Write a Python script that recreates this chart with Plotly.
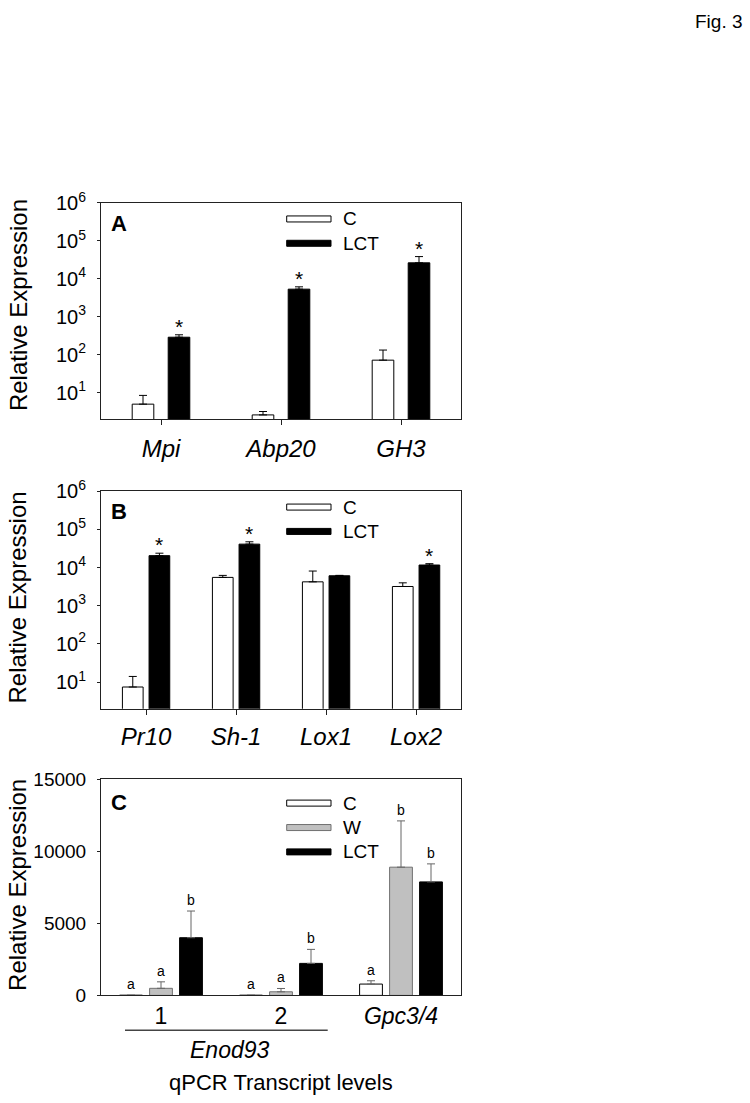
import math
import plotly.graph_objects as go

W, H = 750, 1103
FONT = "Liberation Sans, Arial, sans-serif"

# ---------------- data ----------------
# Panel A
genes_a = ["Mpi", "Abp20", "GH3"]
a_c = [5.0, 2.6, 72]
a_c_err = [3.5, 0.6, 61]
a_lct = [290, 5350, 26400]
a_lct_err = [46, 810, 12200]
a_sig = ["*", "*", "*"]

# Panel B
genes_b = ["Pr10", "Sh-1", "Lox1", "Lox2"]
b_c = [7.4, 5540, 4240, 3200]
b_c_err = [6.6, 710, 3890, 790]
b_lct = [20600, 41300, 6110, 11700]
b_lct_err = [3300, 6300, 150, 1000]
b_sig = ["*", "*", "", "*"]

# Panel C
genes_c = ["1", "2", "Gpc3/4"]
c_c = [10, 10, 785]
c_c_err = [0, 0, 230]
c_w = [490, 250, 8890]
c_w_err = [450, 230, 3210]
c_lct = [4000, 2220, 7870]
c_lct_err = [1850, 970, 1250]
c_let_c = ["a", "a", "a"]
c_let_w = ["a", "a", "b"]
c_let_lct = ["b", "b", "b"]

log_tickvals = [10, 100, 1000, 10000, 100000, 1000000]
log_ticktext = ["10<sup>%d</sup>" % round(math.log10(v)) for v in log_tickvals]
lin_tickvals = [0, 5000, 10000, 15000]

# ---------------- geometry helpers (target picture pixels -> paper) ----------------
# the photographed page comes out slightly compressed vertically; compensate
VS, VO = 0.9759, 14.7


def py(p):
    return 1 - (p / VS - VO) / H


def px(p):
    return p / W


xdom = [px(101), px(461)]
dom_a = [py(419), py(203)]
dom_b = [py(708), py(491)]
dom_c = [py(994.3), py(778.3)]

LINE = "#222222"

fig = go.Figure()


def err(arr, color="black"):
    return dict(type="data", symmetric=False, array=arr, arrayminus=[0] * len(arr),
                color=color, thickness=1, width=4)


# Panel A traces
wa, oa_c, oa_l = 0.18, -0.24, 0.06
fig.add_trace(go.Bar(x=genes_a, y=a_c, name="C", width=wa, offset=oa_c,
                     marker=dict(color="white", line=dict(color="black", width=1)),
                     error_y=err(a_c_err), xaxis="x", yaxis="y", showlegend=False))
fig.add_trace(go.Bar(x=genes_a, y=a_lct, name="LCT", width=wa, offset=oa_l,
                     marker=dict(color="black", line=dict(color="black", width=1)),
                     error_y=err(a_lct_err), xaxis="x", yaxis="y", showlegend=False))

# Panel B traces
wb, ob_c, ob_l = 0.23, -0.262, 0.034
fig.add_trace(go.Bar(x=genes_b, y=b_c, name="C", width=wb, offset=ob_c,
                     marker=dict(color="white", line=dict(color="black", width=1)),
                     error_y=err(b_c_err), xaxis="x2", yaxis="y2", showlegend=False))
fig.add_trace(go.Bar(x=genes_b, y=b_lct, name="LCT", width=wb, offset=ob_l,
                     marker=dict(color="black", line=dict(color="black", width=1)),
                     error_y=err(b_lct_err), xaxis="x2", yaxis="y2", showlegend=False))

# Panel C traces
wc = 0.19
oc = [-0.345, -0.095, 0.155]
ecol = "#666666"
fig.add_trace(go.Bar(x=genes_c, y=c_c, name="C", width=wc, offset=oc[0],
                     marker=dict(color="white", line=dict(color="black", width=1)),
                     error_y=err(c_c_err, ecol), xaxis="x3", yaxis="y3", showlegend=False))
fig.add_trace(go.Bar(x=genes_c, y=c_w, name="W", width=wc, offset=oc[1],
                     marker=dict(color="#c0c0c0", line=dict(color="#707070", width=1)),
                     error_y=err(c_w_err, ecol), xaxis="x3", yaxis="y3", showlegend=False))
fig.add_trace(go.Bar(x=genes_c, y=c_lct, name="LCT", width=wc, offset=oc[2],
                     marker=dict(color="black", line=dict(color="black", width=1)),
                     error_y=err(c_lct_err, ecol), xaxis="x3", yaxis="y3", showlegend=False))

annotations = []
shapes = []

# significance asterisks
for i, s in enumerate(a_sig):
    if s:
        annotations.append(dict(x=i + oa_l + wa / 2, y=math.log10(a_lct[i] + a_lct_err[i]),
                                xref="x", yref="y", text=s, showarrow=False,
                                yanchor="bottom", yshift=-5,
                                font=dict(size=21, family=FONT, color="black")))
for i, s in enumerate(b_sig):
    if s:
        annotations.append(dict(x=i + ob_l + wb / 2, y=math.log10(b_lct[i] + b_lct_err[i]),
                                xref="x2", yref="y2", text=s, showarrow=False,
                                yanchor="bottom", yshift=-5,
                                font=dict(size=21, family=FONT, color="black")))

# letters panel C
for vals, errs, lets, off in [(c_c, c_c_err, c_let_c, oc[0]),
                              (c_w, c_w_err, c_let_w, oc[1]),
                              (c_lct, c_lct_err, c_let_lct, oc[2])]:
    for i, t in enumerate(lets):
        annotations.append(dict(x=i + off + wc / 2, y=vals[i] + errs[i],
                                xref="x3", yref="y3", text=t, showarrow=False,
                                yanchor="bottom", yshift=1,
                                font=dict(size=14, family=FONT, color="black")))


# legend keys (wide swatches)
def key(yc, fill, line, label):
    shapes.append(dict(type="rect", xref="paper", yref="paper",
                       x0=px(286.7), x1=px(331), y0=py(yc + 3), y1=py(yc - 3),
                       fillcolor=fill, line=dict(color=line, width=1)))
    annotations.append(dict(x=px(341), y=py(yc), xref="paper", yref="paper",
                            text=label, showarrow=False, xanchor="left", yanchor="middle",
                            font=dict(size=19, family=FONT, color="black")))


key(219, "white", "black", "C")
key(243.3, "black", "black", "LCT")
key(506.7, "white", "black", "C")
key(531, "black", "black", "LCT")
key(802.3, "white", "black", "C")
key(826.7, "#c0c0c0", "#707070", "W")
key(851, "black", "black", "LCT")

# panel letters
for lab, yc in [("A", 224), ("B", 511), ("C", 801.7)]:
    annotations.append(dict(x=px(119), y=py(yc), xref="paper", yref="paper",
                            text="<b>%s</b>" % lab, showarrow=False,
                            xanchor="center", yanchor="middle",
                            font=dict(size=22, family=FONT, color="black")))

# y titles
for yc in [305, 597, 884]:
    annotations.append(dict(x=px(18), y=py(yc), xref="paper", yref="paper",
                            text="Relative Expression", textangle=-90, showarrow=False,
                            xanchor="center", yanchor="middle",
                            font=dict(size=24, family=FONT, color="black")))

# Fig label
annotations.append(dict(x=px(745), y=py(22), xref="paper", yref="paper", text="Fig. 3",
                        showarrow=False, xanchor="right", yanchor="middle",
                        font=dict(size=19, family=FONT, color="black")))

# Enod93 grouping line and labels
shapes.append(dict(type="line", xref="paper", yref="paper", x0=px(125), x1=px(327.7),
                   y0=py(1029), y1=py(1029), line=dict(color="#444444", width=1.5)))
annotations.append(dict(x=px(230), y=py(1049.3), xref="paper", yref="paper",
                        text="<i>Enod93</i>", showarrow=False, xanchor="center", yanchor="middle",
                        font=dict(size=23, family=FONT, color="black")))
annotations.append(dict(x=px(281), y=py(1081.7), xref="paper", yref="paper",
                        text="qPCR Transcript levels", showarrow=False, xanchor="center",
                        yanchor="middle", font=dict(size=22, family=FONT, color="black")))


def xaxis(dom, anchor, cats, texts, ticks, standoff, size):
    return dict(domain=dom, anchor=anchor, type="category", range=[-0.5, len(cats) - 0.5],
                tickvals=cats, ticktext=texts, showline=True, mirror=True, linecolor=LINE,
                linewidth=1, ticks=ticks, ticklen=5, tickcolor=LINE, showgrid=False,
                zeroline=False, ticklabelstandoff=standoff,
                tickfont=dict(size=size, family=FONT, color="black"))


def ylog(dom, anchor):
    return dict(domain=dom, anchor=anchor, type="log", range=[math.log10(2), 6],
                tickvals=log_tickvals, ticktext=log_ticktext, showline=True, mirror=True,
                linecolor=LINE, linewidth=1, ticks="outside", ticklen=3, tickcolor=LINE,
                showgrid=False, zeroline=False, ticklabelstandoff=7,
                tickfont=dict(size=20, family=FONT, color="black"))


fig.update_layout(
    width=W, height=H, margin=dict(l=0, r=0, t=0, b=0),
    paper_bgcolor="white", plot_bgcolor="white", barmode="group",
    font=dict(family=FONT, color="black"),
    xaxis=xaxis(xdom, "y", genes_a, ["<i>%s</i>" % g for g in genes_a], "outside", 3, 24),
    yaxis=ylog(dom_a, "x"),
    xaxis2=xaxis(xdom, "y2", genes_b, ["<i>%s</i>" % g for g in genes_b], "outside", 2, 24),
    yaxis2=ylog(dom_b, "x2"),
    xaxis3=xaxis(xdom, "y3", genes_c, ["1", "2", "<i>Gpc3/4</i>"], "", 0, 23),
    yaxis3=dict(domain=dom_c, anchor="x3", range=[0, 15000], tickvals=lin_tickvals,
                tickformat="d",
                showline=True, mirror=True, linecolor=LINE, linewidth=1, ticks="outside",
                ticklen=3, tickcolor=LINE, showgrid=False, zeroline=False,
                ticklabelstandoff=7, tickfont=dict(size=19, family=FONT, color="black")),
    annotations=annotations, shapes=shapes,
)

fig.write_html("out.html", config={"displayModeBar": False},
               post_script="document.body.style.margin='0';document.body.style.overflow='hidden';")
